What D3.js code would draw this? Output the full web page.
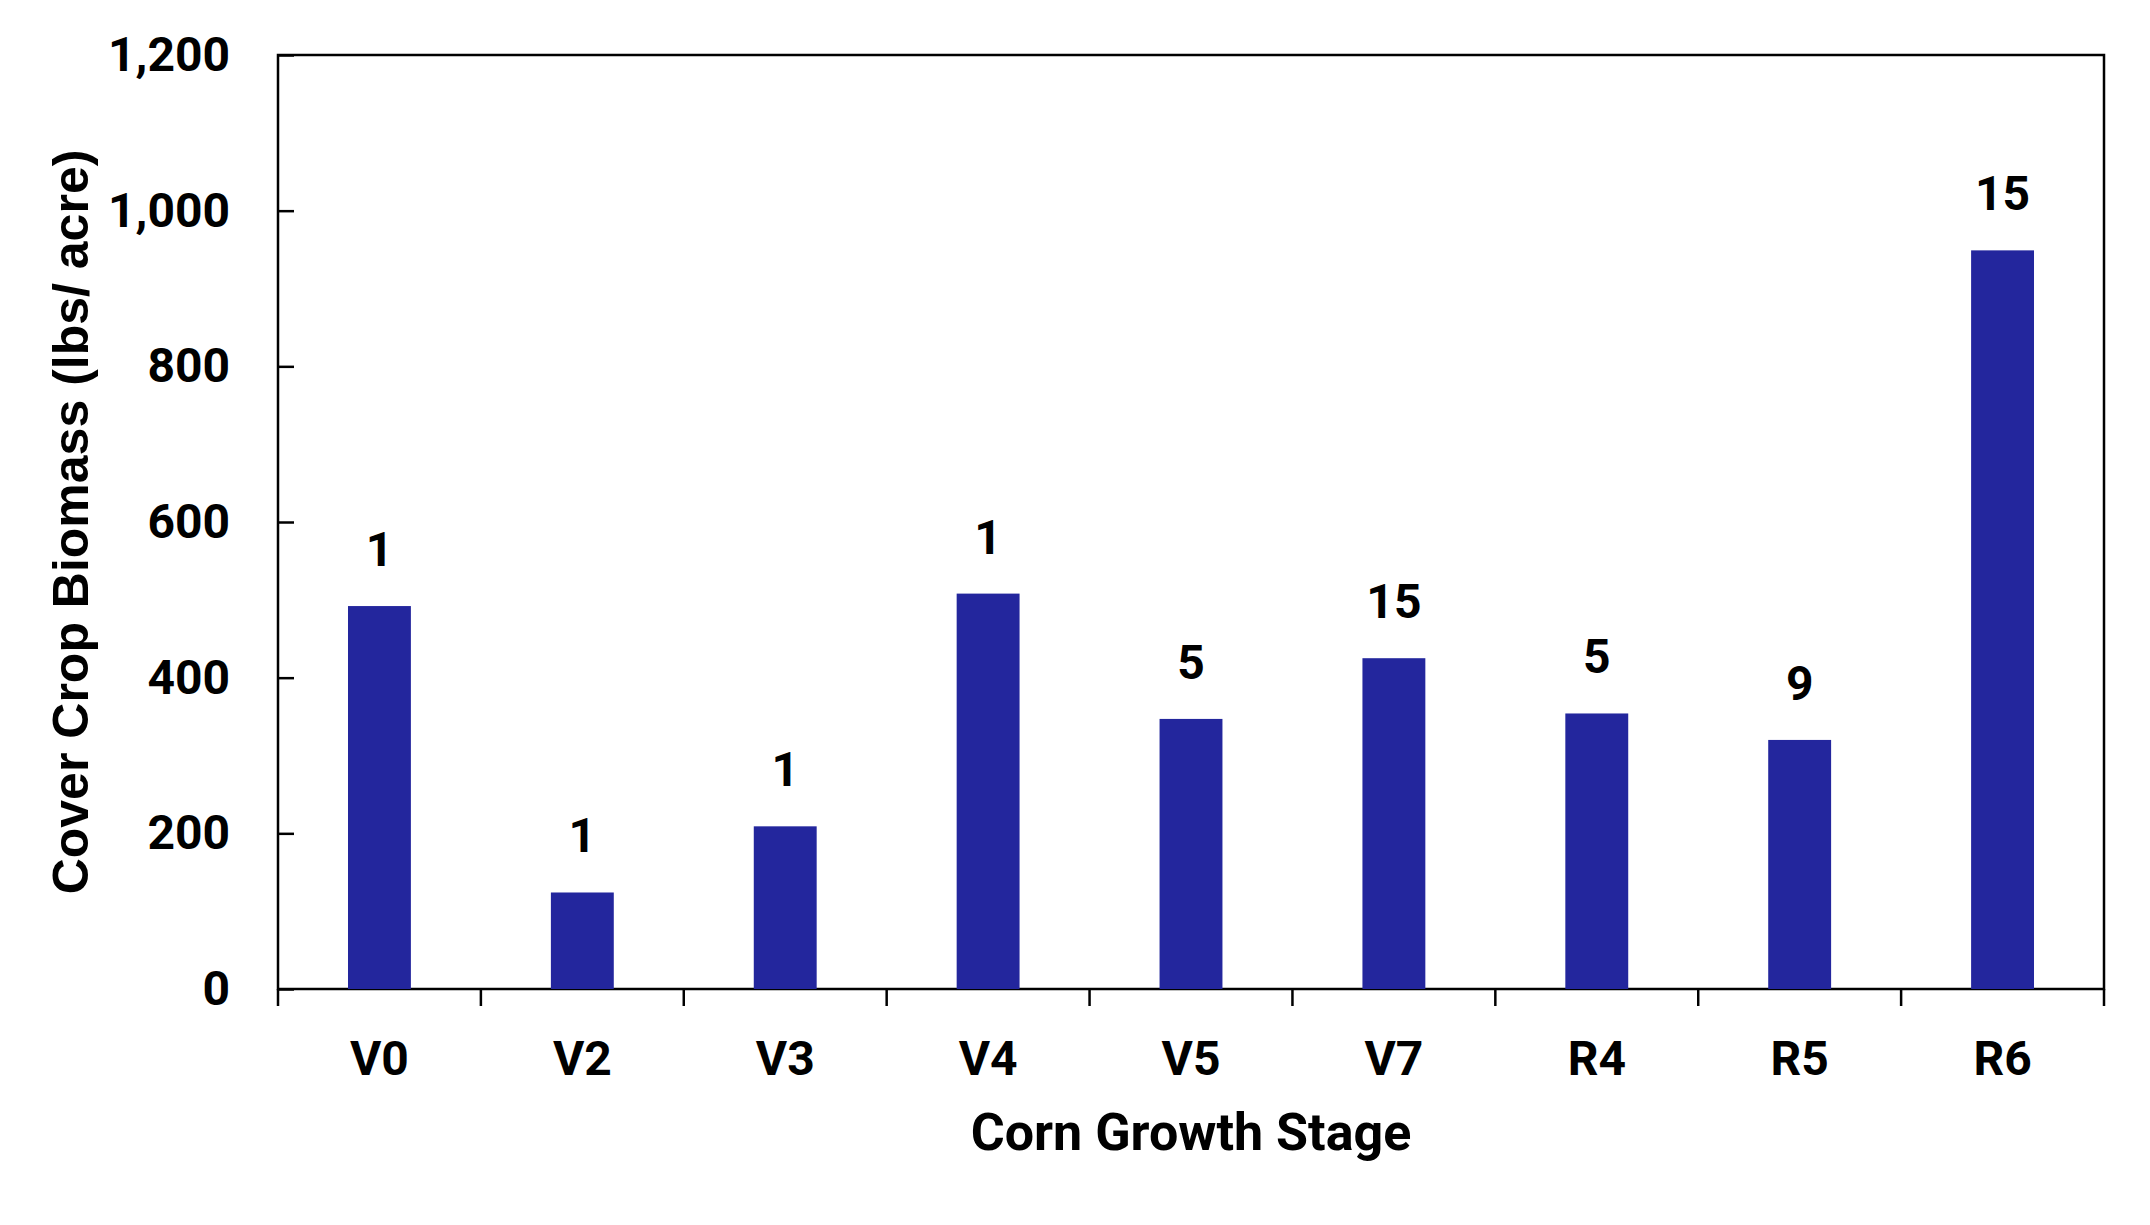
<!DOCTYPE html><html><head><meta charset="utf-8"><script src="https://cdn.jsdelivr.net/npm/d3@7"></script>
<style>body{margin:0;background:#fff}</style></head><body><svg id="c" width="2150" height="1225"></svg>
<script>
const categories=["V0","V2","V3","V4","V5","V7","R4","R5","R6"];
const biomass=[492,124,209,508,347,425,354,320,949];
const counts=["1","1","1","1","5","15","5","9","15"];
const yTicks=[0,200,400,600,800,1000,1200];
const svg=d3.select("#c");
const L=278,R=2104,T=55,B=989;
const x=d3.scaleBand().domain(categories).range([L,R]).paddingInner(0.69).paddingOuter(0.345);
const y=d3.scaleLinear().domain([0,1200]).range([B,T]);
const F="Roboto, sans-serif";
svg.append("rect").attr("x",L).attr("y",T).attr("width",R-L).attr("height",B-T).attr("fill","none").attr("stroke","#000").attr("stroke-width",2.5);
svg.selectAll(".bar").data(biomass).join("rect").attr("x",(d,i)=>x(categories[i])).attr("y",d=>y(d)).attr("width",x.bandwidth()).attr("height",d=>B-y(d)).attr("fill","#23269d");
svg.selectAll(".lab").data(biomass).join("text").attr("x",(d,i)=>x(categories[i])+x.bandwidth()/2).attr("y",d=>y(d)-40).attr("text-anchor","middle").attr("font-family",F).attr("font-weight","bold").attr("font-size",48).text((d,i)=>counts[i]);
const ya=svg.append("g").attr("transform",`translate(${L},0)`).call(d3.axisLeft(y).tickValues(yTicks).tickSizeInner(-16).tickSizeOuter(0).tickPadding(48));
ya.select(".domain").remove();
ya.selectAll("line").attr("stroke-width",2.5);
ya.selectAll("text").attr("font-family",F).attr("font-weight","bold").attr("font-size",48).attr("fill","#000");
// x-axis ticks between categories
const step=x.step();
const bounds=d3.range(categories.length+1).map(i=>L+i*(R-L)/categories.length);
svg.selectAll(".xt").data(bounds).join("line").attr("x1",d=>d).attr("x2",d=>d).attr("y1",B).attr("y2",B+17).attr("stroke","#000").attr("stroke-width",2.5);
svg.selectAll(".xl").data(categories).join("text").attr("x",d=>x(d)+x.bandwidth()/2).attr("y",1075).attr("text-anchor","middle").attr("font-family",F).attr("font-weight","bold").attr("font-size",48).text(d=>d);
svg.append("text").attr("x",(L+R)/2).attr("y",1150).attr("text-anchor","middle").attr("font-family",F).attr("font-weight","bold").attr("font-size",52).text("Corn Growth Stage");
svg.append("text").attr("transform",`translate(88,${(T+B)/2}) rotate(-90)`).attr("text-anchor","middle").attr("font-family","Liberation Sans, Arial, sans-serif").attr("font-weight","bold").attr("font-size",50).text("Cover Crop Biomass (lbs/ acre)");
</script></body></html>
